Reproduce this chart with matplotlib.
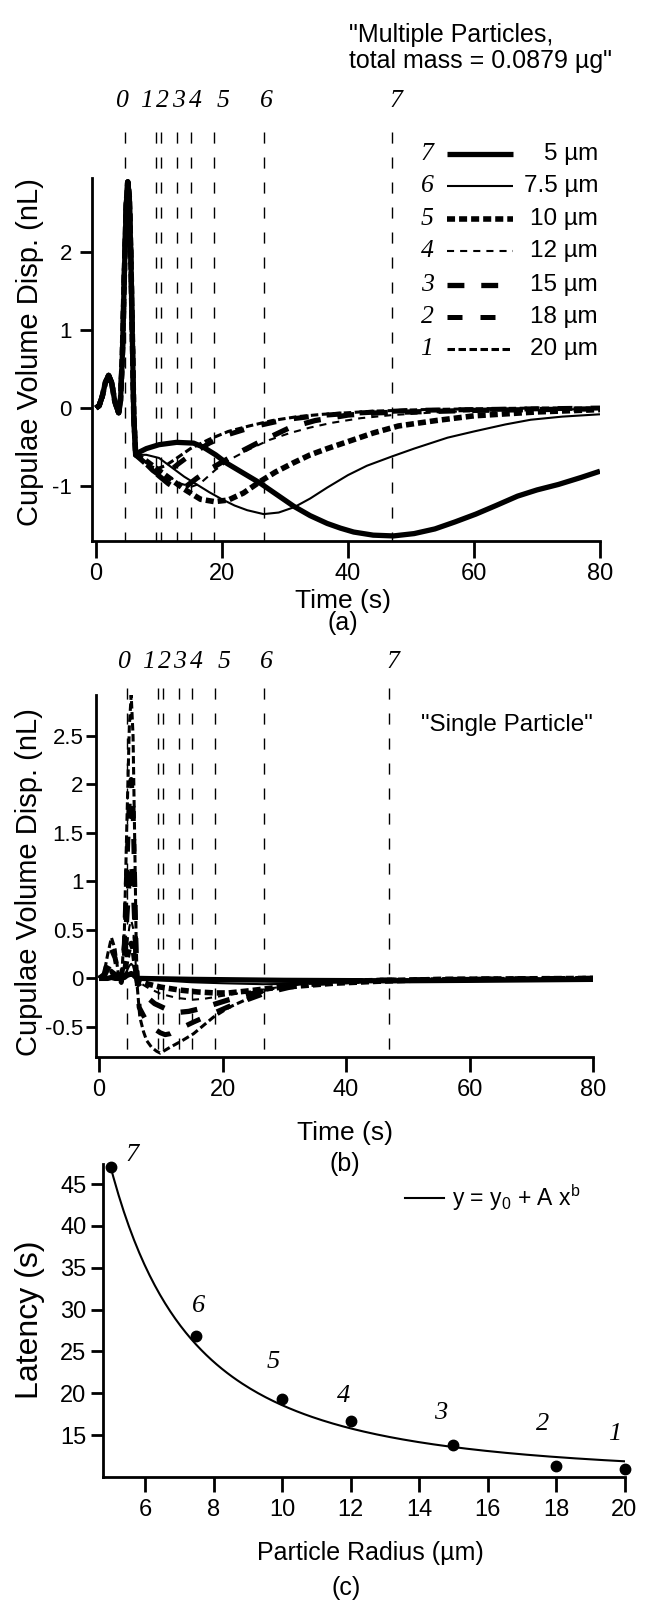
import numpy as np
import matplotlib
matplotlib.use("Agg")
import matplotlib.pyplot as plt
from matplotlib.ticker import FixedLocator, FormatStrFormatter

W, H = 649, 1609
plt.rcParams["font.family"] = ["Liberation Sans", "DejaVu Sans"]
plt.rcParams["axes.unicode_minus"] = False
plt.rcParams["mathtext.fontset"] = "custom"
plt.rcParams["mathtext.rm"] = "Liberation Sans"
plt.rcParams["mathtext.it"] = "Liberation Sans:italic"

SERIF_IT = dict(family=["Liberation Serif", "DejaVu Serif"], style="italic")
NARROW = ["Liberation Sans Narrow", "Liberation Sans", "DejaVu Sans"]

# ---------------- data ----------------
SIZE_LABELS = {7: "5 µm", 6: "7.5 µm", 5: "10 µm", 4: "12 µm",
               3: "15 µm", 2: "18 µm", 1: "20 µm"}
LINE_TIMES = [4.6, 9.5, 10.3, 12.9, 15.1, 18.8, 26.7, 47.0]   # markers 0..7
LINE_NAMES = ["0", "1", "2", "3", "4", "5", "6", "7"]

# (a) multiple particles: common stimulus part
pulse_t = [0, 0.5, 1.0, 1.5, 2.0, 2.5, 3.0, 3.6, 3.9, 4.2, 4.5, 4.8, 5.05,
           5.3, 5.55, 5.8, 6.0]
pulse_v = [0, 0.03, 0.15, 0.33, 0.42, 0.32, 0.08, -0.06, 0.1, 0.7, 1.7, 2.6,
           2.9, 2.7, 1.9, 0.8, -0.1]

a_t1 = [6.3, 8, 9.6, 11, 12.5, 15, 18, 21, 24.3, 28, 32, 36, 44, 52, 60, 70, 80]
a_v1 = [-0.6, -0.72, -0.78, -0.74, -0.66, -0.52, -0.4, -0.3, -0.23, -0.16,
        -0.11, -0.08, -0.04, -0.02, -0.01, 0, 0]
a_t2 = [6.3, 8, 9, 10.2, 11.5, 13, 15, 18, 21, 25, 30, 35, 40, 50, 60, 80]
a_v2 = [-0.6, -0.72, -0.8, -0.87, -0.82, -0.72, -0.6, -0.45, -0.34, -0.24,
        -0.15, -0.1, -0.07, -0.03, -0.02, 0]
a_t3 = [6.3, 8, 10, 11.5, 12.9, 14.4, 16, 18.6, 22, 25.6, 30.8, 34.8, 40, 45,
        50, 60, 70, 80]
a_v3 = [-0.6, -0.72, -0.87, -0.97, -1.04, -1.0, -0.9, -0.76, -0.6, -0.45,
        -0.25, -0.16, -0.09, -0.06, -0.05, -0.03, -0.02, -0.01]
a_t4 = [6.3, 8, 10, 12, 13.5, 15.1, 16.5, 19, 21.5, 24.3, 27.5, 30.8, 34,
        37.4, 42, 47, 55, 65, 80]
a_v4 = [-0.6, -0.7, -0.8, -0.9, -0.97, -1.01, -0.97, -0.79, -0.65, -0.53,
        -0.41, -0.32, -0.25, -0.19, -0.13, -0.09, -0.05, -0.03, -0.01]
a_t5 = [6.3, 8, 10, 12, 14, 16.6, 18.8, 21, 23.4, 26.1, 28.5, 31.4, 34, 36.7,
        40, 44, 48, 54, 60, 70, 80]
a_v5 = [-0.6, -0.68, -0.8, -0.92, -1.04, -1.17, -1.2, -1.18, -1.09, -0.94,
        -0.82, -0.7, -0.6, -0.52, -0.43, -0.32, -0.23, -0.16, -0.1, -0.05, -0.02]
a_t6 = [6.3, 8, 10, 12, 14, 16, 18, 20, 22, 24, 26.6, 29, 31.5, 34, 36.7, 40,
        43, 47, 50.5, 55.8, 60, 65, 69, 74, 80]
a_v6 = [-0.6, -0.6, -0.64, -0.76, -0.88, -0.98, -1.08, -1.17, -1.25, -1.31,
        -1.36, -1.34, -1.27, -1.16, -1.02, -0.86, -0.74, -0.62, -0.52, -0.38,
        -0.3, -0.21, -0.15, -0.11, -0.08]
a_t7 = [6.3, 7, 8, 10, 12.8, 15.5, 17, 19, 20.8, 23.5, 26, 28.7, 31.4, 34,
        36.7, 38.8, 40.9, 44, 47.2, 50.5, 53.8, 57, 60.3, 63.5, 66.9, 70, 73.4,
        77, 80]
a_v7 = [-0.6, -0.56, -0.52, -0.47, -0.44, -0.45, -0.5, -0.6, -0.71, -0.84,
        -0.96, -1.11, -1.26, -1.38, -1.48, -1.54, -1.59, -1.63, -1.64, -1.61,
        -1.55, -1.46, -1.36, -1.25, -1.13, -1.05, -0.98, -0.89, -0.81]

# (b) single particle
b_pulse_t = [0, 0.8, 1.4, 2.0, 2.6, 3.1, 3.6, 4.1, 4.5, 4.9, 5.2, 5.5, 5.8, 6.0]
b_p1 = [0, 0.05, 0.25, 0.42, 0.3, 0.05, -0.05, 0.5, 1.6, 2.6, 2.92, 2.5, 1.3, 0.4]
b_p2 = [0, 0.04, 0.18, 0.3, 0.21, 0.04, -0.04, 0.36, 1.15, 1.85, 2.05, 1.75, 0.9, 0.28]
b_p3 = [0, 0.02, 0.1, 0.17, 0.12, 0.02, -0.02, 0.2, 0.65, 1.05, 1.2, 1.02, 0.55, 0.15]
b_p4 = [0, 0.01, 0.05, 0.09, 0.06, 0.01, -0.01, 0.1, 0.33, 0.53, 0.6, 0.52, 0.28, 0.08]
b_p5 = [0, 0.01, 0.03, 0.05, 0.04, 0.01, -0.01, 0.06, 0.2, 0.32, 0.36, 0.31, 0.17, 0.05]
b_p6 = [0, 0, 0.01, 0.02, 0.015, 0, 0, 0.03, 0.08, 0.13, 0.15, 0.13, 0.07, 0.02]
b_p7 = [0, 0, 0, 0.01, 0, 0, 0, 0.01, 0.03, 0.04, 0.05, 0.04, 0.02, 0.01]

b_t1 = [6.2, 6.6, 7.2, 7.7, 8.5, 9.3, 9.9, 11.5, 13.5, 15.3, 18.5, 21, 23.4,
        27.1, 31.4, 36.8, 45, 60, 80]
b_v1 = [-0.1, -0.4, -0.55, -0.64, -0.71, -0.75, -0.77, -0.71, -0.64, -0.57,
        -0.4, -0.3, -0.23, -0.12, -0.06, -0.02, -0.01, 0, 0]
b_t2 = [6.2, 6.5, 7.5, 8.5, 9.9, 10.7, 11.5, 13, 15.3, 18.5, 21, 24, 27, 31,
        36, 45, 60, 80]
b_v2 = [-0.07, -0.3, -0.42, -0.5, -0.56, -0.58, -0.57, -0.52, -0.45, -0.36,
        -0.29, -0.22, -0.15, -0.09, -0.05, -0.02, -0.01, 0]
b_t3 = [6.2, 7, 7.7, 9, 11, 12.9, 14.5, 16.5, 18.5, 21, 24, 27, 31, 36, 45, 60, 80]
b_v3 = [-0.04, -0.13, -0.19, -0.26, -0.32, -0.35, -0.34, -0.31, -0.27, -0.22,
        -0.17, -0.12, -0.08, -0.04, -0.02, -0.01, 0]
b_t4 = [6.2, 8, 10, 12.5, 15.1, 17, 20, 24, 28, 33, 40, 50, 80]
b_v4 = [-0.03, -0.1, -0.16, -0.2, -0.22, -0.21, -0.18, -0.14, -0.1, -0.06,
        -0.03, -0.01, 0]
b_t5 = [6.2, 8, 10, 13, 16, 18.8, 21, 24, 28, 32, 38, 45, 55, 80]
b_v5 = [-0.02, -0.06, -0.09, -0.12, -0.14, -0.15, -0.15, -0.13, -0.1, -0.08,
        -0.05, -0.03, -0.01, 0]
b_t6 = [6.2, 10, 15, 20, 26.6, 33, 40, 50, 60, 70, 80]
b_v6 = [-0.01, -0.02, -0.04, -0.05, -0.06, -0.055, -0.04, -0.025, -0.015,
        -0.01, -0.005]
b_t7 = [6.2, 15, 30, 47, 60, 70, 80]
b_v7 = [0, -0.01, -0.02, -0.025, -0.02, -0.015, -0.01]

# (c) latency vs radius
radius_pts = [5, 7.5, 10, 12, 15, 18, 20]
latency_pts = [47.0, 26.9, 19.3, 16.7, 13.8, 11.3, 11.0]
point_names = ["7", "6", "5", "4", "3", "2", "1"]
fit_y0, fit_A, fit_b = 9.8, 1056.0, -2.08

# ---------------- styles ----------------
STYLES = {
    1: dict(lw=2.2, dashes=(2.45, 1.15)),
    2: dict(lw=3.6, dashes=(3.0, 3.6)),
    3: dict(lw=3.8, dashes=(3.2, 3.2)),
    4: dict(lw=1.5, dashes=(3.4, 2.9)),
    5: dict(lw=4.0, dashes=(1.45, 0.72)),
    6: dict(lw=1.5),
    7: dict(lw=3.8),
}

fig = plt.figure(figsize=(W / 100, H / 100), dpi=100)


def px_axes(left, top, right, bottom):
    return fig.add_axes([left / W, 1 - bottom / H, (right - left) / W,
                         (bottom - top) / H])


def ftext(x, y, s, **kw):
    fig.text(x / W, 1 - y / H, s, ha=kw.pop("ha", "center"),
             va=kw.pop("va", "center"), **kw)


def style_axes(ax, xlen, ylen, xpad, ypad, xsize, ysize):
    for side in ["top", "right"]:
        ax.spines[side].set_visible(False)
    for side in ["left", "bottom"]:
        ax.spines[side].set_linewidth(2)
    ax.tick_params(axis="x", direction="out", length=xlen, width=2,
                   pad=xpad, labelsize=xsize)
    ax.tick_params(axis="y", direction="out", length=ylen, width=2,
                   pad=ypad, labelsize=ysize)
    ax.patch.set_visible(False)


def plot_curve(ax, t, v, n):
    st = STYLES[n]
    kw = dict(color="k", lw=st["lw"], solid_capstyle="butt",
              solid_joinstyle="round")
    if "dashes" in st:
        kw["dashes"] = st["dashes"]
    ax.plot(t, v, **kw)


def latency_lines(ax, top_frac, label_frac):
    trans = ax.get_xaxis_transform()
    dx_px = [-3, -9, 2, 1, 4, 9, 2, 4]
    for t, name, dx in zip(LINE_TIMES, LINE_NAMES, dx_px):
        ax.plot([t, t], [top_frac, 0], transform=trans, color="k", lw=1.0,
                dashes=(8, 10), clip_on=False, zorder=1)
        ax.annotate(name, xy=(t, label_frac), xycoords=trans,
                    xytext=(dx * 0.72, 0), textcoords="offset points",
                    ha="center", va="center", fontsize=18.5,
                    annotation_clip=False, **SERIF_IT)


# ---------------- panel (a) ----------------
axa = px_axes(92, 178, 600, 541)
axa.set_xlim(-0.63, 80)
axa.set_ylim(-1.705, 2.95)
latency_lines(axa, (541 - 132) / 363, (541 - 101) / 363)
a_curves = {1: (a_t1, a_v1), 2: (a_t2, a_v2), 3: (a_t3, a_v3),
            4: (a_t4, a_v4), 5: (a_t5, a_v5), 6: (a_t6, a_v6),
            7: (a_t7, a_v7)}
for n in [1, 2, 3, 4, 5, 6, 7]:
    t, v = a_curves[n]
    plot_curve(axa, list(pulse_t) + list(t), list(pulse_v) + list(v), n)
axa.xaxis.set_major_locator(FixedLocator([0, 20, 40, 60, 80]))
axa.yaxis.set_major_locator(FixedLocator([-1, 0, 1, 2]))
axa.yaxis.set_major_formatter(FormatStrFormatter("%g"))
style_axes(axa, 12, 8.5, 4, 6, 17, 16)

# legend of (a)
row_y = {7: 154, 6: 186, 5: 219, 4: 251, 3: 285, 2: 317, 1: 349}
for n in [7, 6, 5, 4, 3, 2, 1]:
    fy = (541 - row_y[n]) / 363
    axa.text((427 - 92) / 508, fy, str(n), transform=axa.transAxes,
             ha="center", va="center", fontsize=18.5, clip_on=False,
             **SERIF_IT)
    st = STYLES[n]
    kw = dict(color="k", lw=st["lw"], solid_capstyle="butt")
    if "dashes" in st:
        kw["dashes"] = st["dashes"]
    axa.plot([(447 - 92) / 508, (513 - 92) / 508], [fy, fy],
             transform=axa.transAxes, clip_on=False, **kw)
    axa.text((598 - 92) / 508, fy, SIZE_LABELS[n], transform=axa.transAxes,
             ha="right", va="center", fontsize=17.5, clip_on=False)

ftext(349, 48, "\"Multiple Particles,\ntotal mass = 0.0879 µg\"", ha="left",
      fontsize=18, linespacing=1.15)
ftext(30, 352, "Cupulae Volume Disp. (nL)", rotation=90, fontsize=21)
ftext(343, 601, "Time (s)", fontsize=19, family=NARROW)
ftext(343, 623, "(a)", fontsize=18)

# ---------------- panel (b) ----------------
axb = px_axes(96, 695, 593, 1057)
axb.set_xlim(-0.5, 80)
axb.set_ylim(-0.81, 2.92)
latency_lines(axb, (1057 - 688) / 362, (1057 - 662) / 362)
b_curves = {1: (b_p1, b_t1, b_v1), 2: (b_p2, b_t2, b_v2),
            3: (b_p3, b_t3, b_v3), 4: (b_p4, b_t4, b_v4),
            5: (b_p5, b_t5, b_v5), 6: (b_p6, b_t6, b_v6),
            7: (b_p7, b_t7, b_v7)}
for n in [1, 2, 3, 4, 5, 6, 7]:
    p, t, v = b_curves[n]
    plot_curve(axb, list(b_pulse_t) + list(t), list(p) + list(v), n)
axb.xaxis.set_major_locator(FixedLocator([0, 20, 40, 60, 80]))
axb.yaxis.set_major_locator(FixedLocator([-0.5, 0, 0.5, 1, 1.5, 2, 2.5]))
axb.yaxis.set_major_formatter(FormatStrFormatter("%g"))
style_axes(axb, 11, 7.5, 5, 1.5, 17, 16)

ftext(421, 725, "\"Single Particle\"", ha="left", fontsize=17.5)
ftext(29, 882, "Cupulae Volume Disp. (nL)", rotation=90, fontsize=21)
ftext(345, 1133, "Time (s)", fontsize=19, family=NARROW)
ftext(345, 1164, "(b)", fontsize=18)

# ---------------- panel (c) ----------------
axc = px_axes(103, 1164, 624.5, 1477)
axc.set_xlim(4.77, 20)
axc.set_ylim(10, 47.4)
xfit = np.linspace(radius_pts[0], radius_pts[-1], 200)
axc.plot(xfit, fit_y0 + fit_A * xfit ** fit_b, color="k", lw=1.5)
axc.plot(radius_pts, latency_pts, "o", color="k", ms=7.5, clip_on=False,
         zorder=3)
label_off_px = [(21, 12), (2, 30), (-9, 37), (-7, 25), (-13, 32), (-13, 42),
                (-9.5, 34.5)]
for x, y, name, (dx, dy) in zip(radius_pts, latency_pts, point_names,
                                label_off_px):
    axc.annotate(name, xy=(x, y), xytext=(dx * 0.72, dy * 0.72),
                 textcoords="offset points", ha="center", va="center",
                 fontsize=19, annotation_clip=False, **SERIF_IT)
axc.xaxis.set_major_locator(FixedLocator([6, 8, 10, 12, 14, 16, 18, 20]))
axc.yaxis.set_major_locator(FixedLocator([15, 20, 25, 30, 35, 40, 45]))
style_axes(axc, 11, 8.5, 5, 3.5, 17, 17)

lx0, lx1 = (405 - 103) / 521.5, (444 - 103) / 521.5
ly = (1477 - 1198) / 313
axc.plot([lx0, lx1], [ly, ly], transform=axc.transAxes, color="k", lw=1.5)
axc.text((452 - 103) / 521.5, ly, r"y = y$_\mathrm{0}$ + A x$^\mathrm{b}$",
         transform=axc.transAxes, ha="left", va="center", fontsize=16.5)

ftext(30, 1320, "Latency (s)", rotation=90, fontsize=23)
ftext(370, 1553, "Particle Radius (µm)", fontsize=18)
ftext(346, 1588, "(c)", fontsize=18)

fig.savefig("out.png", dpi=100)
